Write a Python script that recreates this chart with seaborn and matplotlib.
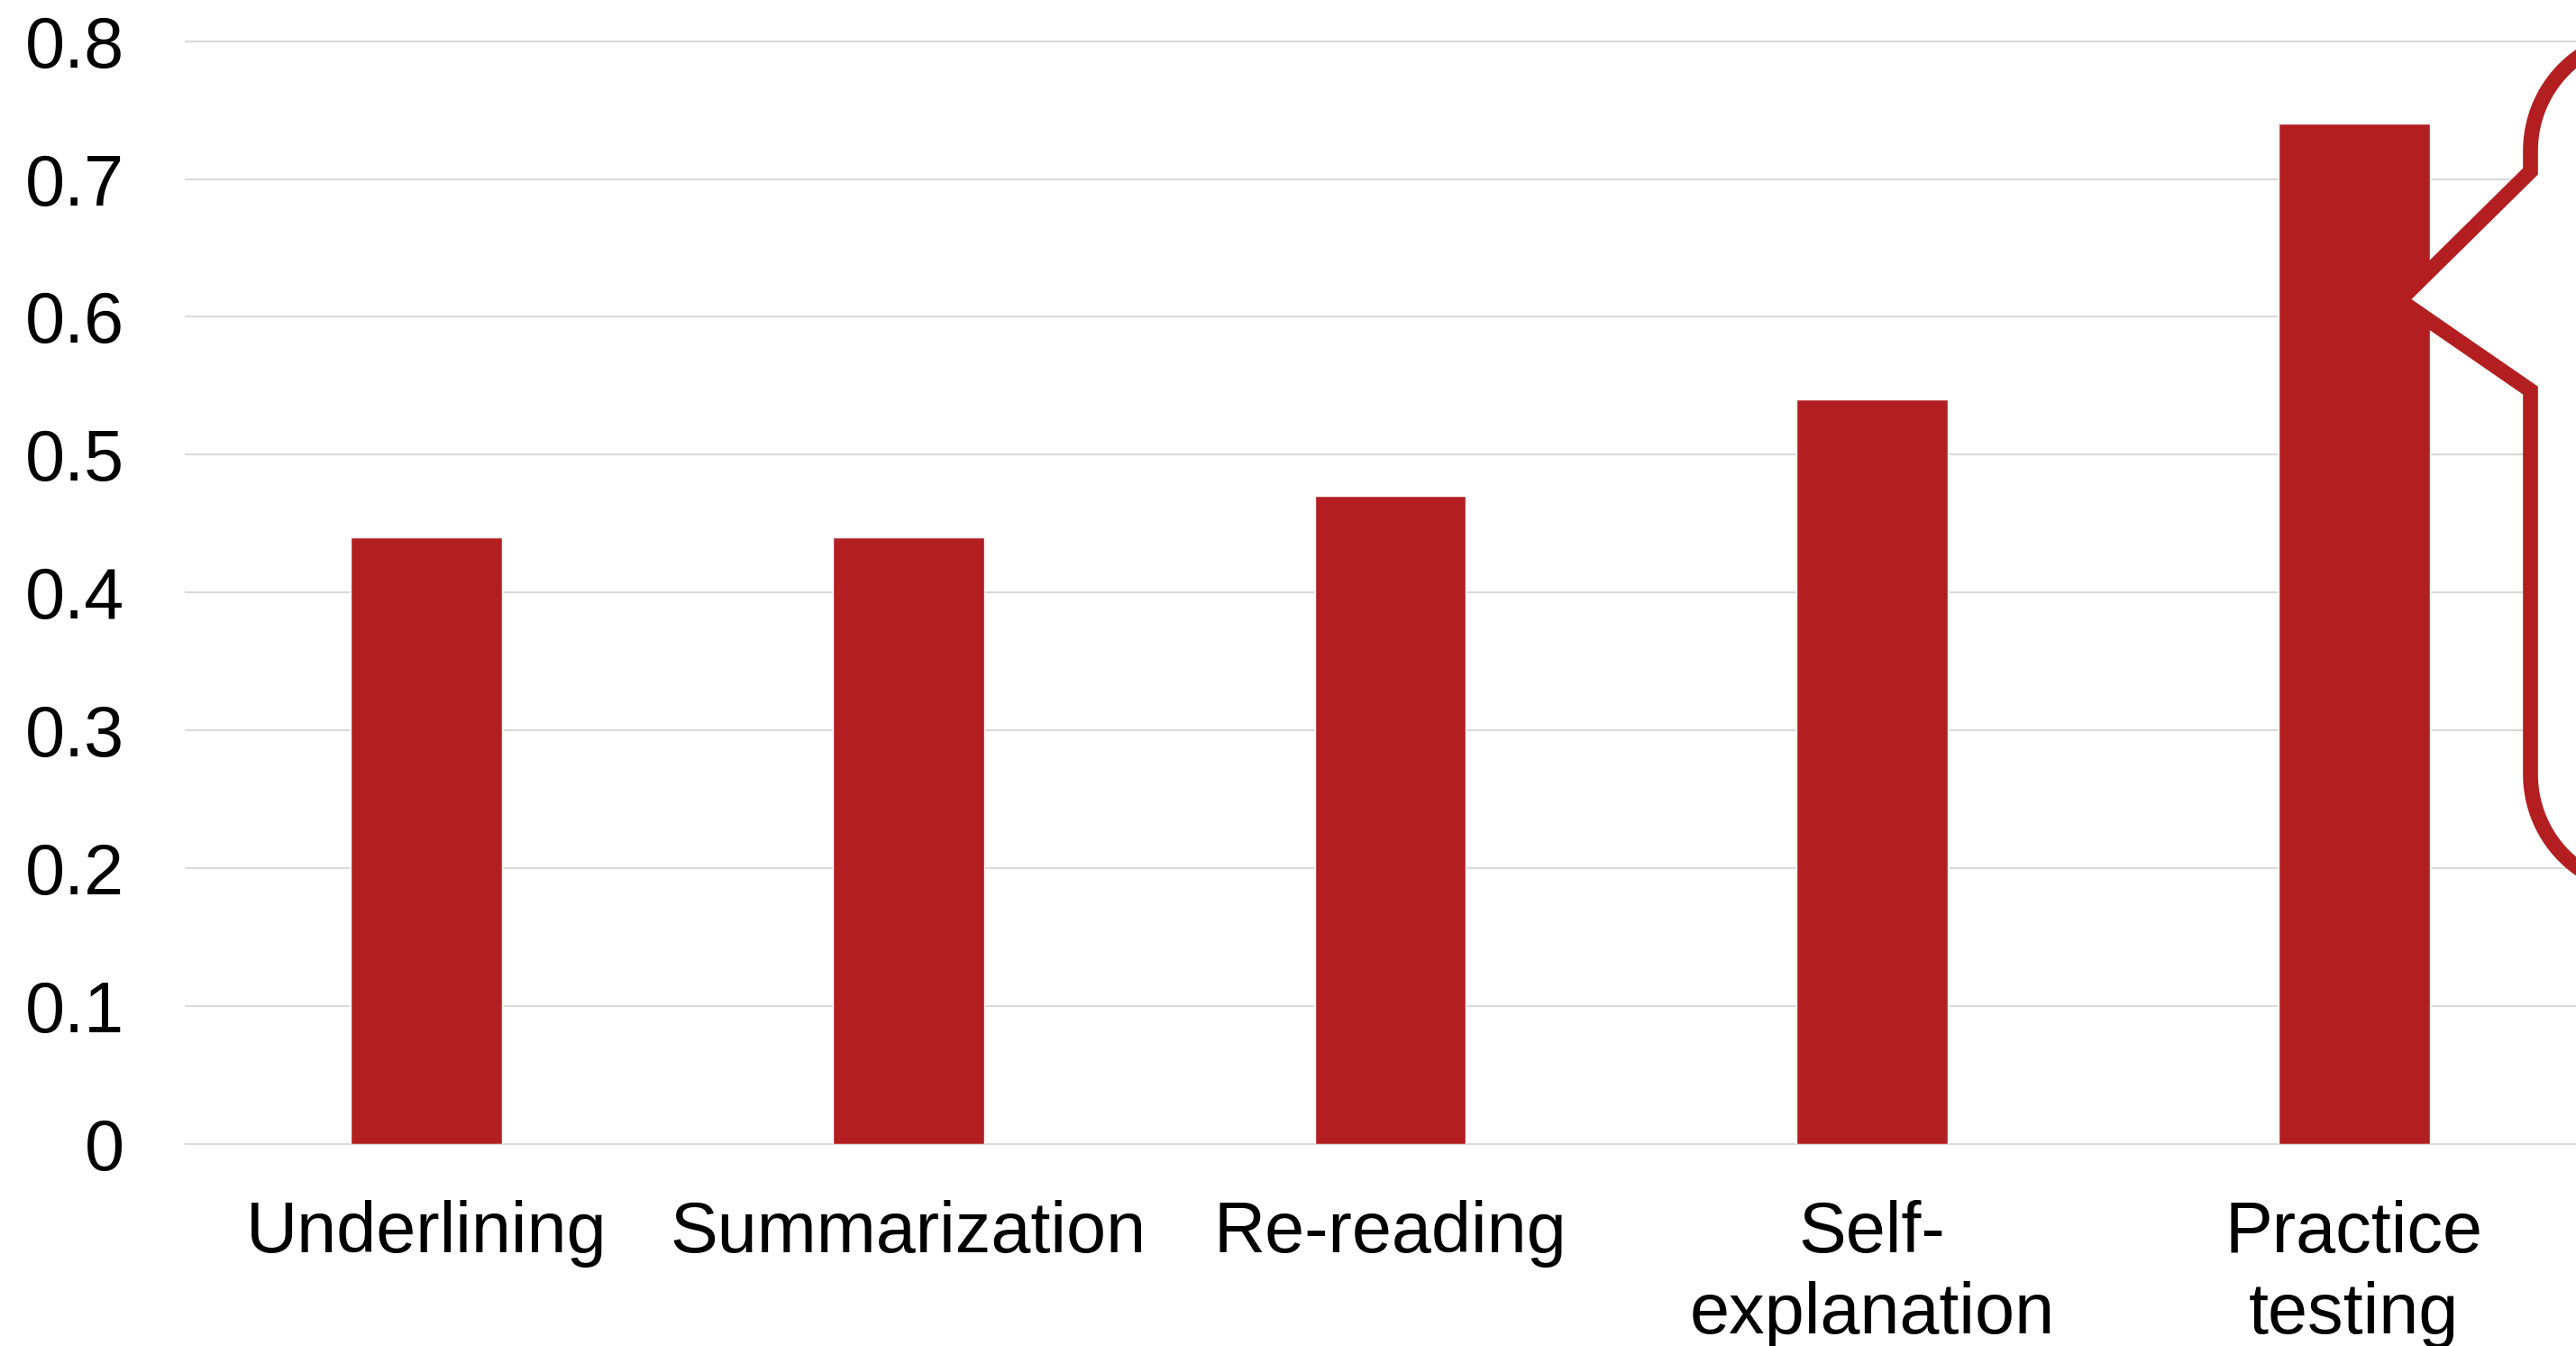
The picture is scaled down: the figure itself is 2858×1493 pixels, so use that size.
import numpy as np
import pandas as pd
import seaborn as sns
import matplotlib
matplotlib.use("Agg")
import matplotlib.pyplot as plt
from matplotlib.path import Path
from matplotlib.patches import PathPatch
from matplotlib.transforms import IdentityTransform

# Mean effect of each study strategy
categories = ["Underlining", "Summarization", "Re-reading", "Self-\nexplanation", "Practice\ntesting"]
values = [0.44, 0.44, 0.47, 0.54, 0.74]
y_ticks = [0, 0.1, 0.2, 0.3, 0.4, 0.5, 0.6, 0.7, 0.8]
y_tick_labels = ["0", "0.1", "0.2", "0.3", "0.4", "0.5", "0.6", "0.7", "0.8"]

BAR_RED = "#B31F21"
GRID_GREY = "#D9D9D9"

sns.set_theme(style="whitegrid")
plt.rcParams["font.family"] = ["Liberation Sans", "DejaVu Sans"]

W, H = 2858, 1493
fig = plt.figure(figsize=(W / 100, H / 100), dpi=100)
fig.patch.set_facecolor("white")
ax = fig.add_axes([206 / W, 1 - 1269 / H, 5 * 534.6 / W, (1269 - 45.6) / H])
ax.set_facecolor("white")

df = pd.DataFrame({"strategy": categories, "score": values})
sns.barplot(data=df, x="strategy", y="score", color=BAR_RED, saturation=1,
            width=0.314, ax=ax, zorder=3)

ax.set_xlim(-0.5, 4.5)
ax.set_ylim(0, 0.8)
ax.set_yticks(y_ticks)
ax.set_yticklabels(y_tick_labels)
ax.grid(axis="y", color=GRID_GREY, lw=1.5)
ax.grid(axis="x", visible=False)
ax.set_axisbelow(True)
for line in ax.get_ygridlines():
    line.set_clip_on(False)
for s in ax.spines.values():
    s.set_visible(False)
ax.tick_params(axis="both", length=0, labelsize=57, colors="black")
ax.tick_params(axis="y", pad=49)
ax.tick_params(axis="x", pad=45)
for lbl in ax.get_xticklabels():
    lbl.set_linespacing(1.25)
ax.set_xlabel("")
ax.set_ylabel("")

# Rounded callout pointing at the "Practice testing" bar
tip_x, tip_y = ax.transData.transform((4 + 0.095, 0.612))
left, top, bottom, r, right = 145, 294, -654, 128, 900
join_up, join_down = 143, -100


def arc(cx, cy, a0, a1, n=30):
    t = np.radians(np.linspace(a0, a1, n))
    return list(zip(cx + r * np.cos(t), cy + r * np.sin(t)))


pts = [(0, 0), (left, join_up), (left, top - r)]
pts += arc(left + r, top - r, 180, 90)
pts += [(right, top), (right, bottom), (left + r, bottom)]
pts += arc(left + r, bottom + r, 270, 180)
pts += [(left, join_down), (0, 0)]
pts = np.array(pts, dtype=float) + np.array([tip_x, tip_y])
codes = [Path.MOVETO] + [Path.LINETO] * (len(pts) - 2) + [Path.CLOSEPOLY]
callout = PathPatch(Path(pts, codes), facecolor="white", edgecolor=BAR_RED,
                    lw=12, joinstyle="miter", transform=IdentityTransform(), zorder=5)
fig.add_artist(callout)

fig.savefig("out.png", dpi=100, facecolor="white")
